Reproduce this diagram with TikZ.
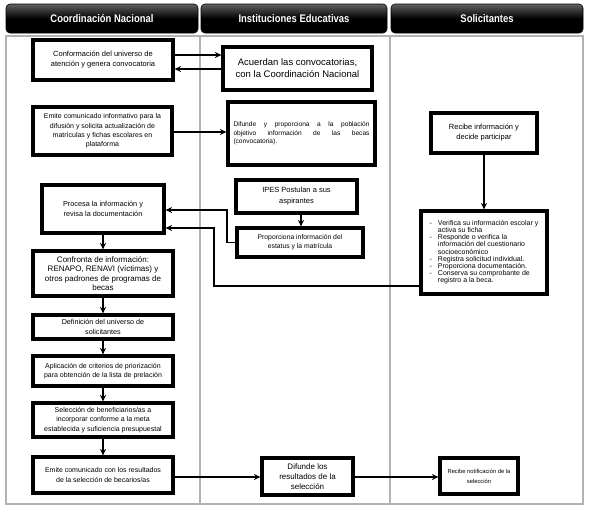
\documentclass[tikz,border=0pt]{standalone}
\usepackage{fontspec}
\setmainfont{Liberation Sans}
\newfontfamily\hdrfont[FakeStretch=0.86]{Liberation Sans}
\usetikzlibrary{arrows.meta,calc}
\newcommand{\fs}[2]{\fontsize{#1}{#2}\selectfont}
\begin{document}
\begin{tikzpicture}[x=1pt,y=-1pt,
  hdr/.style={rounded corners=4pt, top color=black!62, bottom color=black, middle color=black,
    draw=black, line width=0.6pt, text=white, font=\hdrfont\bfseries\fs{11}{12}},
  box/.style={draw=black, fill=white, line width=3.2pt, align=center, inner sep=1pt},
  arr/.style={line width=1.8pt, -{Stealth[length=6.5pt,width=6pt]}},
  lane/.style={draw=black!30, line width=1.3pt}]
\useasboundingbox (0,0) rectangle (590,514);
\fill[white] (0,0) rectangle (590,514);
% headers
\node[hdr, minimum width=192, minimum height=29] (h1) at (102,18.5) {Coordinación Nacional};
\node[hdr, minimum width=186, minimum height=29] (h2) at (294,18.5) {Instituciones Educativas};
\node[hdr, minimum width=192, minimum height=29] (h3) at (487,18.5) {Solicitantes};
% lanes
\draw[lane] (6,36) rectangle (583,504);
\draw[lane] (200,36) -- (200,504);
\draw[lane] (390,36) -- (390,504);
% nodes
\node[box, minimum width=140, minimum height=40, font=\fs{7.5}{10}] (conf) at (103,60)
  {Conformación del universo de\\atención y genera convocatoria};
\node[box, minimum width=149, minimum height=43, font=\fs{9.5}{12}] (acu) at (297.5,68.5)
  {Acuerdan las convocatorias,\\con la Coordinación Nacional};
\node[box, minimum width=139, minimum height=48, font=\fs{7}{9.3}] (emi) at (102.5,131)
  {Emite comunicado informativo para la\\difusión y solicita actualización de\\matrículas y fichas escolares en\\plataforma};
\node[box, minimum width=147, minimum height=63, align=left, font=\fs{6.6}{8.6}] (dif) at (301.5,133.5)
  {\makebox[136pt][s]{Difunde y proporciona a la población}\\\makebox[136pt][s]{objetivo información de las becas}\\(convocatoria).};
\node[box, minimum width=106, minimum height=40, font=\fs{7.5}{10}] (rec) at (484,133)
  {Recibe información y\\decide participar};
\node[box, minimum width=126, minimum height=83, font=\fs{7}{7.1}] (ver) at (484,252.5)
  {\begin{tabular}{@{}l@{\hspace{6pt}}l@{}}
  - & Verifica su información escolar y\\
    & activa su ficha\\
  - & Responde o verifica la\\
    & información del cuestionario\\
    & socioeconómico\\
  - & Registra solicitud individual.\\
  - & Proporciona documentación.\\
  - & Conserva su comprobante de\\
    & registro a la beca.
  \end{tabular}};
\node[box, minimum width=121, minimum height=33, font=\fs{7.5}{11}] (ipes) at (296.5,196.5)
  {IPES Postulan a sus\\aspirantes};
\node[box, minimum width=126, minimum height=29, font=\fs{6.8}{9}] (prop) at (300,242.5)
  {Proporciona información del\\estatus y la matrícula};
\node[box, minimum width=122, minimum height=48, font=\fs{7.3}{10}] (proc) at (103,209)
  {Procesa la información y\\revisa la documentación};
\node[box, minimum width=140, minimum height=45, font=\fs{8}{9.3}] (conf2) at (103,273.5)
  {Confronta de información:\\RENAPO, RENAVI (víctimas) y\\otros padrones de programas de\\becas};
\node[box, minimum width=140, minimum height=24, font=\fs{7.2}{9.3}] (def) at (103,327)
  {Definición del universo de\\solicitantes};
\node[box, minimum width=140, minimum height=30, font=\fs{7}{9.3}] (apl) at (103,371)
  {Aplicación de criterios de priorización\\para obtención de la lista de prelación};
\node[box, minimum width=140, minimum height=34, font=\fs{7}{9.3}] (sel) at (103,420)
  {Selección de beneficiarios/as a\\incorporar conforme a la meta\\establecida y suficiencia presupuestal};
\node[box, minimum width=140, minimum height=36, font=\fs{7}{9.3}] (emi2) at (103,475)
  {Emite comunicado con los resultados\\de la selección de becarios/as};
\node[box, minimum width=91, minimum height=37, font=\fs{8}{10}] (difres) at (307.5,476.5)
  {Difunde los\\resultados de la\\selección};
\node[box, minimum width=78, minimum height=36, font=\fs{5.8}{10}] (recnot) at (479,476)
  {Recibe notificación de la\\selección};
% helper coordinates
\coordinate (ya) at (0,55);
\coordinate (yb) at (0,69);
\coordinate (yc) at (0,132);
\coordinate (xi) at (301,0);
\coordinate (k1) at (227,210);
\coordinate (k2) at (214,228);
\coordinate (yv) at (0,286);
\coordinate (yd) at (0,477);
% connectors
\draw[arr] (conf.east |- ya) -- (acu.west |- ya);
\draw[arr] (acu.west |- yb) -- (conf.east |- yb);
\draw[arr] (emi.east |- yc) -- (dif.west |- yc);
\draw[arr] (rec.south) -- (ver.north);
\draw[arr] (ipes.south -| xi) -- (prop.north -| xi);
\draw[arr] (prop.west) -| (k1) -- (proc.east |- k1);
\draw[arr] (ver.west |- yv) -| (k2) -- (proc.east |- k2);
\draw[arr] (proc) -- (conf2);
\draw[arr] (conf2) -- (def);
\draw[arr] (def) -- (apl);
\draw[arr] (apl) -- (sel);
\draw[arr] (sel) -- (emi2);
\draw[arr] (emi2.east |- yd) -- (difres.west |- yd);
\draw[arr] (difres.east |- yd) -- (recnot.west |- yd);
\end{tikzpicture}
\end{document}
